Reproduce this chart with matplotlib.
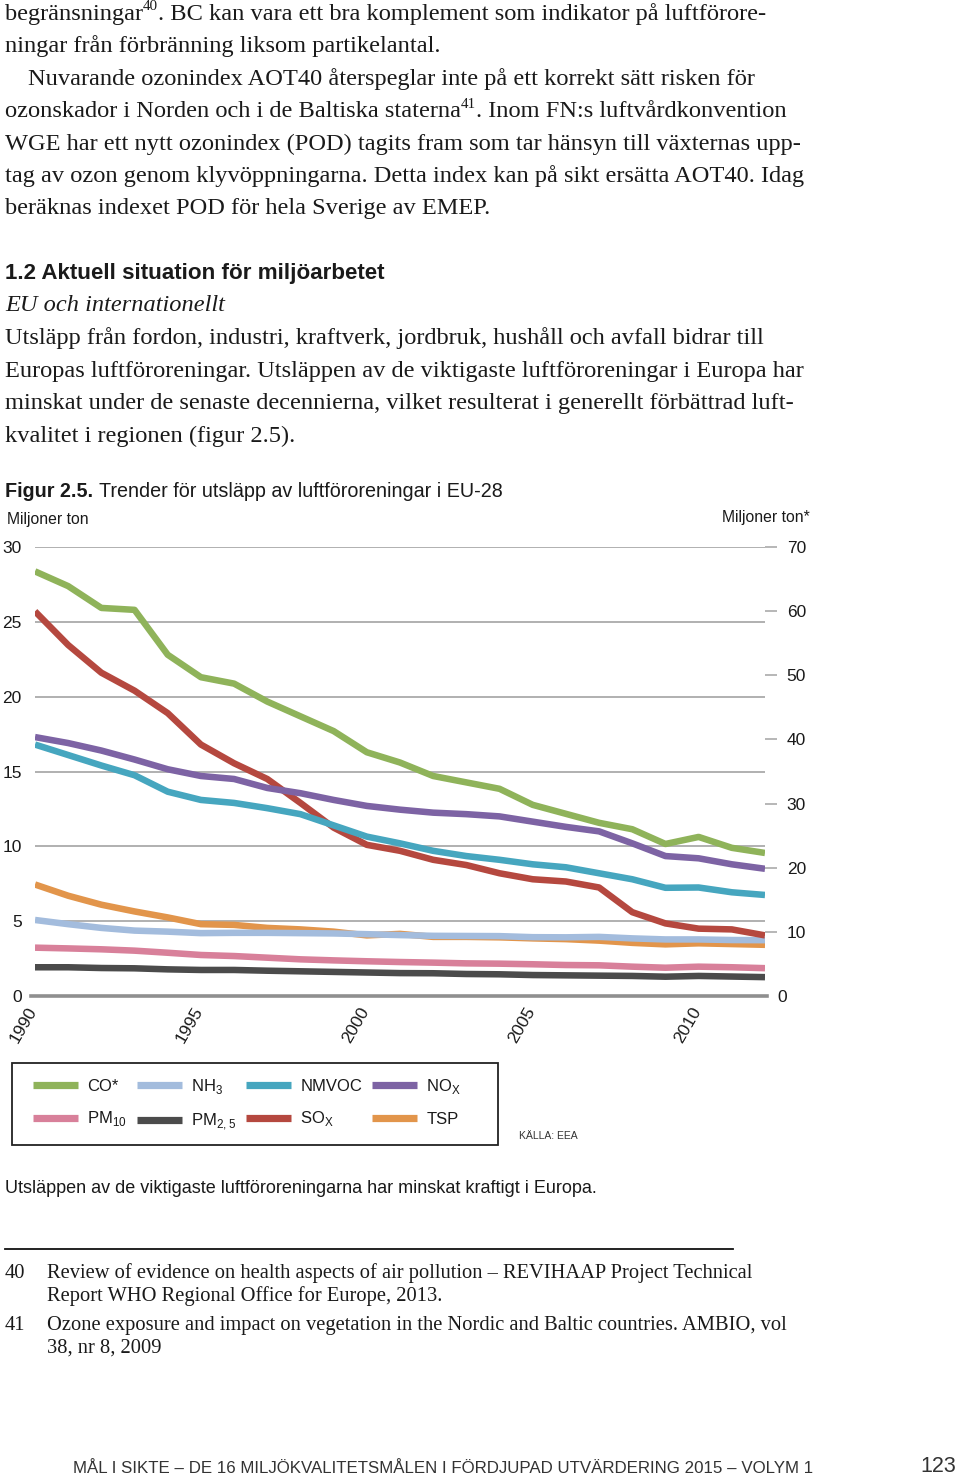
import matplotlib
matplotlib.use("Agg")
import matplotlib.pyplot as plt
from matplotlib.lines import Line2D
from matplotlib.patches import Rectangle
from matplotlib.transforms import ScaledTranslation

# ---------------- data ----------------
years = list(range(1990, 2013))
co = [66.2, 63.9, 60.5, 60.2, 53.2, 49.7, 48.7, 45.9, 43.6, 41.3, 38.0, 36.4,
      34.3, 33.3, 32.3, 29.8, 28.4, 27.0, 26.0, 23.7, 24.8, 23.1, 22.3]
sox = [25.7, 23.45, 21.6, 20.4, 18.9, 16.8, 15.55, 14.5, 12.9, 11.25, 10.1, 9.7,
       9.1, 8.75, 8.2, 7.8, 7.65, 7.25, 5.6, 4.85, 4.5, 4.45, 4.05]
nox = [17.3, 16.9, 16.4, 15.8, 15.15, 14.7, 14.5, 13.9, 13.55, 13.1, 12.7, 12.45,
       12.25, 12.15, 12.0, 11.65, 11.3, 11.0, 10.2, 9.35, 9.2, 8.8, 8.5]
nmvoc = [16.8, 16.1, 15.4, 14.75, 13.65, 13.1, 12.9, 12.55, 12.15, 11.4, 10.65, 10.2,
         9.7, 9.35, 9.1, 8.8, 8.6, 8.2, 7.8, 7.23, 7.25, 6.93, 6.75]
tsp = [7.45, 6.7, 6.1, 5.65, 5.25, 4.8, 4.75, 4.55, 4.45, 4.3, 4.05, 4.15,
       3.95, 3.95, 3.92, 3.85, 3.8, 3.7, 3.55, 3.45, 3.52, 3.47, 3.42]
nh3 = [5.08, 4.8, 4.55, 4.37, 4.3, 4.2, 4.22, 4.22, 4.2, 4.18, 4.13, 4.07,
       4.02, 4.01, 4.0, 3.93, 3.92, 3.95, 3.85, 3.78, 3.78, 3.74, 3.73]
pm10 = [3.23, 3.18, 3.12, 3.03, 2.89, 2.74, 2.67, 2.56, 2.45, 2.38, 2.32, 2.27,
        2.23, 2.18, 2.16, 2.12, 2.07, 2.05, 1.96, 1.89, 1.96, 1.92, 1.86]
pm25 = [1.92, 1.92, 1.87, 1.85, 1.78, 1.74, 1.74, 1.69, 1.65, 1.61, 1.57, 1.53,
        1.52, 1.47, 1.45, 1.40, 1.38, 1.36, 1.34, 1.29, 1.34, 1.30, 1.26]

left_ticks = [0, 5, 10, 15, 20, 25, 30]
right_ticks = [0, 10, 20, 30, 40, 50, 60, 70]
year_ticks = [1990, 1995, 2000, 2005, 2010]

labels = {
    "co": "CO*", "nh3": r"NH$_\mathregular{3}$", "nmvoc": "NMVOC",
    "nox": r"NO$_\mathregular{X}$", "pm10": r"PM$_\mathregular{10}$",
    "pm25": r"PM$_\mathregular{2,5}$", "sox": r"SO$_\mathregular{X}$", "tsp": "TSP",
}
colors = {
    "co": "#8fb35a", "nh3": "#a3bcdd", "nmvoc": "#46a6bf", "nox": "#7d63a4",
    "pm10": "#d8809a", "pm25": "#4b4b4b", "sox": "#b5483f", "tsp": "#e2954b",
}

# ---------------- page ----------------
W, H = 960, 1475
fig = plt.figure(figsize=(W / 100, H / 100), dpi=100)
fig.patch.set_facecolor("white")
renderer = fig.canvas.get_renderer()


def fx(x):
    return x / W


def fy(y):
    return 1 - y / H


SERIF = ["Liberation Serif", "DejaVu Serif"]
SANS = ["Liberation Sans", "DejaVu Sans"]
TXT = "#1a1a1a"


def seg_text(x, y, parts, size, family, **kw):
    """Draw text segments in sequence; parts = [(text, is_superscript), ...]."""
    cur = x
    for s, sup in parts:
        if sup:
            t = fig.text(fx(cur), fy(y - size * 0.55), s, family=family,
                         size=size * 0.62, va="baseline", ha="left", **kw)
        else:
            t = fig.text(fx(cur), fy(y), s, family=family, size=size,
                         va="baseline", ha="left", **kw)
        bb = t.get_window_extent(renderer)
        cur = cur + bb.width
    return cur


body_size = 17.6
top_lines = [
    (5, [("begränsningar", False), ("40", True),
         (". BC kan vara ett bra komplement som indikator på luftförore-", False)]),
    (5, [("ningar från förbränning liksom partikelantal.", False)]),
    (28, [("Nuvarande ozonindex AOT40 återspeglar inte på ett korrekt sätt risken för", False)]),
    (5, [("ozonskador i Norden och i de Baltiska staterna", False), ("41", True),
         (". Inom FN:s luftvårdkonvention", False)]),
    (5, [("WGE har ett nytt ozonindex (POD) tagits fram som tar hänsyn till växternas upp-", False)]),
    (5, [("tag av ozon genom klyvöppningarna. Detta index kan på sikt ersätta AOT40. Idag", False)]),
    (5, [("beräknas indexet POD för hela Sverige av EMEP.", False)]),
]
base = 20
for i, (x, parts) in enumerate(top_lines):
    seg_text(x, base + i * 32.4, parts, body_size, SERIF, color=TXT)

fig.text(fx(5), fy(279), "1.2 Aktuell situation för miljöarbetet", family=SANS,
         weight="bold", size=16.1, color=TXT, va="baseline", ha="left")
fig.text(fx(5), fy(311), "EU och internationellt", family=SERIF, style="italic",
         size=body_size, color=TXT, va="baseline", ha="left")
body2 = [
    "Utsläpp från fordon, industri, kraftverk, jordbruk, hushåll och avfall bidrar till",
    "Europas luftföroreningar. Utsläppen av de viktigaste luftföroreningar i Europa har",
    "minskat under de senaste decennierna, vilket resulterat i generellt förbättrad luft-",
    "kvalitet i regionen (figur 2.5).",
]
for i, t in enumerate(body2):
    fig.text(fx(5), fy(344 + i * 32.6), t, family=SERIF, size=body_size,
             color=TXT, va="baseline", ha="left")

# figure title
tb = fig.text(fx(5), fy(497), "Figur 2.5.", family=SANS, weight="bold", size=14.2,
              color=TXT, va="baseline", ha="left")
xb = 5 + tb.get_window_extent(renderer).width + 6
fig.text(fx(xb), fy(497), "Trender för utsläpp av luftföroreningar i EU-28", family=SANS,
         size=14.2, color=TXT, va="baseline", ha="left")
fig.text(fx(7), fy(524), "Miljoner ton", family=SANS, size=11.3, color=TXT,
         va="baseline", ha="left")
fig.text(fx(810), fy(522), "Miljoner ton*", family=SANS, size=11.3, color=TXT,
         va="baseline", ha="right")

# ---------------- chart ----------------
ax = fig.add_axes([fx(35), fy(996), (765 - 35) / W, (996 - 547) / H])
ax.set_xlim(1990, 2012)
ax.set_ylim(0, 30)
for s in ax.spines.values():
    s.set_visible(False)
ax.set_yticks(left_ticks)
ax.set_yticklabels([str(v) for v in left_ticks])
ax.tick_params(axis="y", length=0, pad=9.5, labelsize=12.5, labelcolor=TXT)
for lab in ax.get_yticklabels():
    lab.set_family(SANS)
ax.yaxis.grid(True, color="#a3a3a3", lw=1.2)
ax.set_axisbelow(True)
ax.axhline(0, xmin=-0.005, xmax=1.003, color="#8f8f8f", lw=2.6, clip_on=False, zorder=1)

ax.set_xticks(year_ticks)
ax.set_xticklabels([str(y) for y in year_ticks], rotation=60, ha="right", va="top",
                   family=SANS, fontsize=12.5, color=TXT)
ax.tick_params(axis="x", length=0, pad=6)
off = ScaledTranslation(5 / 100, 0, fig.dpi_scale_trans)
for lab in ax.get_xticklabels():
    lab.set_transform(lab.get_transform() + off)

LW = 4.7
series = [("tsp", tsp), ("nh3", nh3), ("pm10", pm10), ("pm25", pm25),
          ("sox", sox), ("nox", nox), ("nmvoc", nmvoc)]
for key, vals in series:
    ax.plot(years, vals, color=colors[key], lw=LW, solid_capstyle="butt",
            solid_joinstyle="round", zorder=3)

ax2 = ax.twinx()
ax2.set_ylim(0, 70)
ax2.set_xlim(1990, 2012)
for s in ax2.spines.values():
    s.set_visible(False)
ax2.plot(years, co, color=colors["co"], lw=LW, solid_capstyle="butt",
         solid_joinstyle="round", zorder=3)
ax2.set_yticks(right_ticks[1:])
ax2.set_yticklabels([str(v) for v in right_ticks[1:]])
ax2.tick_params(axis="y", direction="out", length=8.6, width=1.1, color="#a3a3a3",
                pad=7, labelsize=12.5, labelcolor=TXT)
for lab in ax2.get_yticklabels():
    lab.set_family(SANS)
# the right-hand zero sits without a tick dash, close to the axis
zt = ax2.text(1.0, right_ticks[0], str(right_ticks[0]), family=SANS, size=12.5,
              color=TXT, ha="left", va="center_baseline")
zt.set_transform(ax2.get_yaxis_transform() +
                 ScaledTranslation(12 / 100, 0, fig.dpi_scale_trans))

# legend
order = ["co", "pm10", "nh3", "pm25", "nmvoc", "sox", "nox", "tsp"]
leg_handles = [Line2D([0], [0], color=colors[k], lw=5.2, solid_capstyle="butt") for k in order]
leg = fig.legend(leg_handles, [labels[k] for k in order], ncol=4, loc="upper left",
                 bbox_to_anchor=(fx(33), fy(1077)), bbox_transform=fig.transFigure,
                 frameon=False, borderaxespad=0, borderpad=0,
                 prop={"family": SANS, "size": 12}, handlelength=2.7,
                 handletextpad=0.55, columnspacing=0.6, labelspacing=0.93)
for t in leg.get_texts():
    t.set_color(TXT)
fig.add_artist(Rectangle((fx(12), fy(1145)), (498 - 12) / W, (1145 - 1063) / H,
                         transform=fig.transFigure, fill=False, edgecolor="#222222",
                         lw=1.3))

fig.text(fx(519), fy(1139), "KÄLLA: EEA", family=SANS, size=7.5, color="#333333",
         va="baseline", ha="left")
fig.text(fx(5), fy(1193), "Utsläppen av de viktigaste luftföroreningarna har minskat kraftigt i Europa.",
         family=SANS, size=13.0, color=TXT, va="baseline", ha="left")

# footnotes
fig.add_artist(Line2D([fx(5), fx(733)], [fy(1249), fy(1249)], color="#111111", lw=1.3))
fn_size = 14.8
foot = [
    (1278, "40", "Review of evidence on health aspects of air pollution – REVIHAAP Project Technical"),
    (1301, "", "Report WHO Regional Office for Europe, 2013."),
    (1330, "41", "Ozone exposure and impact on vegetation in the Nordic and Baltic countries. AMBIO, vol"),
    (1353, "", "38, nr 8, 2009"),
]
for y, num, t in foot:
    if num:
        fig.text(fx(5), fy(y), num, family=SERIF, size=fn_size, color=TXT, va="baseline")
    fig.text(fx(47), fy(y), t, family=SERIF, size=fn_size, color=TXT, va="baseline")

fig.text(fx(73), fy(1473), "MÅL I SIKTE – DE 16 MILJÖKVALITETSMÅLEN I FÖRDJUPAD UTVÄRDERING 2015 – VOLYM 1",
         family=SANS, size=12.2, color="#333333", va="baseline", ha="left")
fig.text(fx(956), fy(1472), "123", family=SANS, size=15.5, color="#333333",
         va="baseline", ha="right")

fig.savefig("out.png", dpi=100, facecolor="white")
